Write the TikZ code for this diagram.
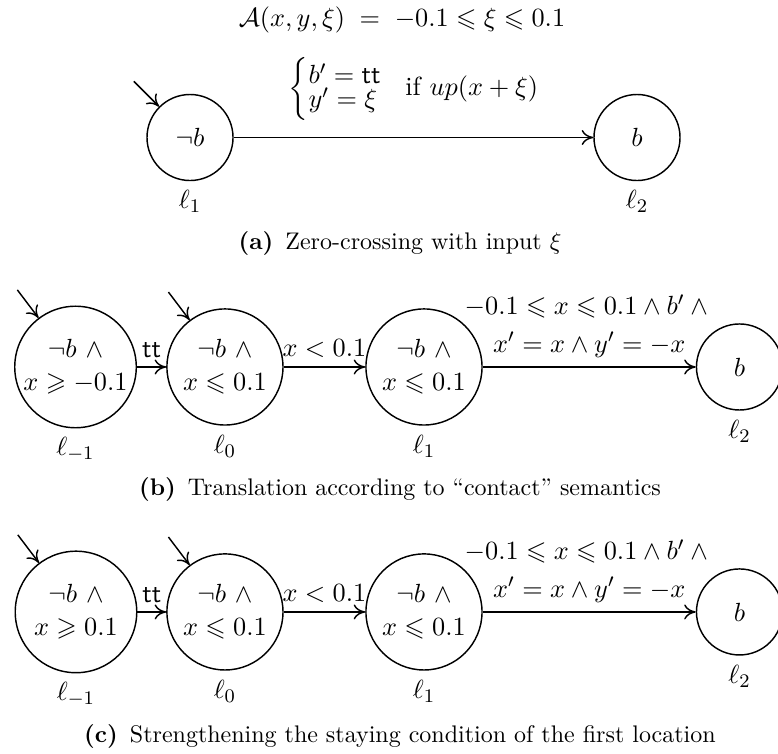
\documentclass[11pt,tikz,border=0pt]{standalone}
\usepackage{amsmath,amssymb}
\usepackage{tikz}
\usetikzlibrary{arrows.meta,positioning}
\tikzset{
  loc/.style={draw, circle, semithick, inner sep=0pt, align=center, minimum size=1.26cm},
  wideloc/.style={loc, minimum size=1.70cm},
  widerloc/.style={loc, minimum size=1.78cm},
  trans/.style={-{To[length=1.7mm, width=2.2mm]}, semithick},
  subcap/.style={inner sep=0pt, font=\small}
}

\begin{document}
\begin{tikzpicture}[x=1cm, y=1cm]
  \useasboundingbox (0,0) rectangle (11.395,-11.043);

  % (a) zero-crossing with input
  \node (ttl) at (5.888,-0.293) {$\mathcal{A}(x,y,\xi)\;=\;-0.1\leqslant\xi\leqslant0.1$};
  \node[loc, label=below:$\ell_1$] (za1) at (2.783,-2.014) {$\neg b$};
  \node[loc, label=below:$\ell_2$] (za2) at (9.330,-2.014) {$b$};
  \coordinate[above left=0.37cm and 0.37cm of za1.north west] (za0);
  \draw[trans] (za0) -- (za1.north west);
  \draw[trans] (za1) -- node[above=3pt] {$\left\{\begin{array}{@{}l@{}} b'=\mathsf{tt}\\[-3.5pt] y'=\xi\end{array}\right.\ \ \text{if}\ up(x+\xi)$} (za2);
  \node[subcap] (capa) at (5.858,-3.559) {\textbf{(a)}\enspace Zero-crossing with input $\xi$};

  % (b) contact semantics
  \node[widerloc, label=below:$\ell_{-1}$] (zbm) at (1.106,-5.375) {$\neg b$ $\wedge$\\$x\geqslant-0.1$};
  \node[wideloc, label=below:$\ell_0$] (zb0) at (3.295,-5.375) {$\neg b$ $\wedge$\\$x\leqslant0.1$};
  \node[wideloc, label=below:$\ell_1$] (zb1) at (6.210,-5.375) {$\neg b$ $\wedge$\\$x\leqslant0.1$};
  \node[loc, label=below:$\ell_2$] (zb2) at (10.831,-5.375) {$b$};
  \coordinate[above left=0.41cm and 0.31cm of zbm.127] (zbi);
  \coordinate[above left=0.41cm and 0.31cm of zb0.127] (zbj);
  \draw[trans] (zbi) -- (zbm.127);
  \draw[trans] (zbj) -- (zb0.127);
  \draw[trans] (zbm) -- node[above] {$\mathsf{tt}$} (zb0);
  \draw[trans] (zb0) -- node[above] {$x<0.1$} (zb1);
  \draw[trans] (zb1) -- node[above, align=center] {$-0.1\leqslant x\leqslant0.1\wedge b'\wedge{}$\\[2pt]$x'=x\wedge y'=-x$} (zb2);
  \node[subcap] (capb) at (5.858,-7.162) {\textbf{(b)}\enspace Translation according to ``contact'' semantics};

  % (c) stronger staying condition
  \node[widerloc, label=below:$\ell_{-1}$] (zcm) at (1.113,-8.963) {$\neg b$ $\wedge$\\$x\geqslant0.1$};
  \node[wideloc, label=below:$\ell_0$] (zc0) at (3.295,-8.963) {$\neg b$ $\wedge$\\$x\leqslant0.1$};
  \node[wideloc, label=below:$\ell_1$] (zc1) at (6.210,-8.963) {$\neg b$ $\wedge$\\$x\leqslant0.1$};
  \node[loc, label=below:$\ell_2$] (zc2) at (10.831,-8.963) {$b$};
  \coordinate[above left=0.41cm and 0.31cm of zcm.127] (zci);
  \coordinate[above left=0.41cm and 0.31cm of zc0.127] (zcj);
  \draw[trans] (zci) -- (zcm.127);
  \draw[trans] (zcj) -- (zc0.127);
  \draw[trans] (zcm) -- node[above] {$\mathsf{tt}$} (zc0);
  \draw[trans] (zc0) -- node[above] {$x<0.1$} (zc1);
  \draw[trans] (zc1) -- node[above, align=center] {$-0.1\leqslant x\leqslant0.1\wedge b'\wedge{}$\\[2pt]$x'=x\wedge y'=-x$} (zc2);
  \node[subcap] (capc) at (5.858,-10.780) {\textbf{(c)}\enspace Strengthening the staying condition of the first location};
\end{tikzpicture}
\end{document}
